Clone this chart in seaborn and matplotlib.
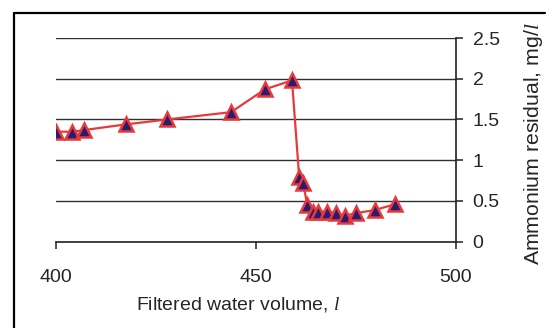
import matplotlib
matplotlib.use("Agg")
import matplotlib.pyplot as plt
import seaborn as sns
import pandas as pd
from matplotlib.lines import Line2D

volume = [400, 404, 407, 417.5, 427.75, 443.75, 452.25, 459, 460.8, 461.8, 462.8,
          464.3, 465.6, 467.8, 470, 472.25, 475, 479.8, 484.75]
ammonium = [1.35, 1.35, 1.37, 1.44, 1.50, 1.59, 1.87, 1.98, 0.79, 0.72, 0.45,
            0.37, 0.37, 0.37, 0.35, 0.32, 0.35, 0.39, 0.46]
x_ticks = [400, 450, 500]
y_ticks = [0, 0.5, 1, 1.5, 2, 2.5]
y_tick_labels = ["0", "0.5", "1", "1.5", "2", "2.5"]

df = pd.DataFrame({"volume": volume, "ammonium": ammonium})

sns.set_theme(style="white")
plt.rcParams["font.family"] = ["Liberation Sans", "DejaVu Sans"]
plt.rcParams["mathtext.fontset"] = "custom"
plt.rcParams["mathtext.it"] = "Liberation Serif:italic"
plt.rcParams["mathtext.rm"] = "Liberation Sans"

fig = plt.figure(figsize=(5.55, 3.28), dpi=100)
ax = fig.add_axes([56 / 555, (328 - 241.7) / 328, 400 / 555, 203.7 / 328])

sns.lineplot(data=df, x="volume", y="ammonium", ax=ax, color="#E8393A",
             linewidth=1.6, marker="^", markersize=10,
             markerfacecolor="#2A1A70", markeredgecolor="#E8393A",
             markeredgewidth=1.8, zorder=5)

ax.set_xlim(400, 500)
ax.set_ylim(0, 2.5)
ax.set_xticks(x_ticks)
ax.set_xticklabels([str(t) for t in x_ticks])
ax.set_yticks(y_ticks)
ax.set_yticklabels(y_tick_labels)

ax.yaxis.tick_right()
ax.yaxis.set_label_position("right")
for y in y_ticks[1:]:
    ax.axhline(y, color="#303030", linewidth=1.0, zorder=1)

ax.spines["left"].set_visible(False)
ax.spines["top"].set_visible(False)
ax.spines["right"].set_color("#202020")
ax.spines["bottom"].set_color("#202020")
ax.spines["right"].set_linewidth(1.2)
ax.spines["bottom"].set_linewidth(1.2)

ax.tick_params(axis="y", which="both", right=True, left=False, length=5,
               width=1.1, color="#202020", labelsize=14, pad=7, direction="out")
ax.tick_params(axis="x", which="both", bottom=True, length=5, width=1.1,
               color="#202020", labelsize=14, pad=15, direction="out")

ax.set_xlabel("Filtered water volume, $l$", fontsize=14)
ax.set_ylabel("Ammonium residual, mg/$l$", fontsize=15.3, rotation=90)
ax.xaxis.set_label_coords(0.455, -0.26)
ax.yaxis.set_label_coords(1.165, 0.48)

# figure frame (top and left lines)
fig.add_artist(Line2D([14 / 555, 14 / 555], [0, 1 - 13 / 328],
                      transform=fig.transFigure, color="black", linewidth=1.6))
fig.add_artist(Line2D([14 / 555, 545 / 555], [1 - 13 / 328, 1 - 13 / 328],
                      transform=fig.transFigure, color="black", linewidth=1.6))

fig.savefig("out.png", dpi=100)
